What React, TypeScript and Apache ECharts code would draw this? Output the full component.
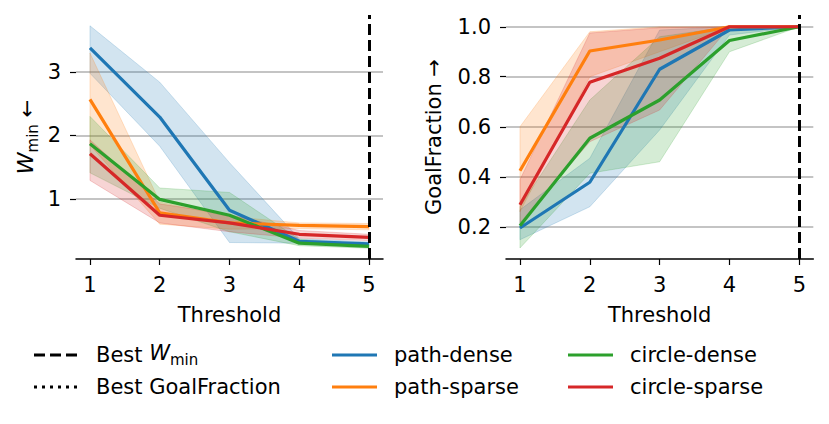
import React, { useEffect, useRef } from "react";
import * as echarts from "echarts";

const FONT = "DejaVu Sans";

const thresholds = [1, 2, 3, 4, 5];
const methods = ["path-dense", "path-sparse", "circle-dense", "circle-sparse"];
const colors = ["#1f77b4", "#ff7f0e", "#2ca02c", "#d62728"];

// W_min (left panel)
const wminMean = [
  [3.38, 2.29, 0.82, 0.33, 0.29],
  [2.57, 0.78, 0.62, 0.58, 0.56],
  [1.87, 0.99, 0.74, 0.3, 0.25],
  [1.71, 0.74, 0.62, 0.44, 0.39],
];
const wminLower = [
  [2.98, 1.83, 0.31, 0.3, 0.26],
  [1.85, 0.6, 0.52, 0.53, 0.51],
  [1.41, 0.85, 0.48, 0.26, 0.22],
  [1.29, 0.62, 0.48, 0.38, 0.34],
];
const wminUpper = [
  [3.73, 2.84, 1.57, 0.37, 0.32],
  [3.3, 0.95, 0.72, 0.62, 0.61],
  [2.3, 1.17, 1.1, 0.36, 0.28],
  [1.93, 0.92, 0.75, 0.5, 0.44],
];

// GoalFraction (right panel)
const goalMean = [
  [0.195, 0.378, 0.83, 0.987, 1.0],
  [0.424, 0.903, 0.947, 1.0, 1.0],
  [0.204, 0.554, 0.707, 0.945, 1.0],
  [0.288, 0.778, 0.874, 1.0, 1.0],
];
const goalLower = [
  [0.148, 0.28, 0.587, 0.967, 1.0],
  [0.26, 0.8, 0.9, 1.0, 1.0],
  [0.115, 0.414, 0.46, 0.9, 1.0],
  [0.216, 0.54, 0.667, 1.0, 1.0],
];
const goalUpper = [
  [0.268, 0.474, 0.987, 1.0, 1.0],
  [0.6, 0.98, 1.0, 1.0, 1.0],
  [0.28, 0.707, 0.96, 1.0, 1.0],
  [0.388, 0.975, 0.996, 1.0, 1.0],
];

const wminTicks = [1, 2, 3];
const goalTicks = [0.2, 0.4, 0.6, 0.8, 1.0];
const bestThreshold = 5;

function buildPanel(gi: number, mean: number[][], lower: number[][], upper: number[][]) {
  const out: any[] = [];
  methods.forEach((m, i) => {
    const data = thresholds.map((t, k) => [t, lower[i][k], upper[i][k]]);
    out.push({
      type: "custom",
      name: m + "-band",
      xAxisIndex: gi,
      yAxisIndex: gi,
      silent: true,
      encode: { x: 0, y: [1, 2] },
      data,
      z: 1,
      renderItem: (params: any, api: any) => {
        if (params.dataIndex !== 0) return null;
        const top = data.map((d) => api.coord([d[0], d[2]]));
        const bot = data.map((d) => api.coord([d[0], d[1]])).reverse();
        return {
          type: "polygon",
          shape: { points: top.concat(bot) },
          style: { fill: colors[i], stroke: colors[i], lineWidth: 1, opacity: 0.2 },
        };
      },
    });
  });
  methods.forEach((m, i) => {
    const s: any = {
      type: "line",
      name: m,
      xAxisIndex: gi,
      yAxisIndex: gi,
      symbol: "none",
      lineStyle: { width: 3.2, color: colors[i] },
      itemStyle: { color: colors[i] },
      data: thresholds.map((t, k) => [t, mean[i][k]]),
      z: 3,
    };
    if (i === methods.length - 1) {
      s.markLine = {
        silent: true,
        symbol: ["none", "none"],
        label: { show: false },
        lineStyle: { color: "#000", type: [11, 5], width: 3 },
        data: [{ xAxis: bestThreshold }],
        z: 5,
      };
    }
    out.push(s);
  });
  return out;
}

function xAxis(gi: number) {
  return {
    type: "value",
    gridIndex: gi,
    min: 0.8,
    max: 5.2,
    axisLine: { show: true, onZero: false, lineStyle: { color: "#000", width: 1.5 } },
    axisTick: { show: true, length: 6, customValues: thresholds, lineStyle: { color: "#000", width: 1.2 } },
    axisLabel: { customValues: thresholds, fontSize: 21, color: "#000", fontFamily: FONT, margin: 15 },
    splitLine: { show: false },
    name: "Threshold",
    nameLocation: "middle",
    nameGap: 45,
    nameTextStyle: { fontSize: 21, color: "#000", fontFamily: FONT },
  };
}

export default function App() {
  const ref = useRef<HTMLDivElement>(null);
  useEffect(() => {
    if (!ref.current) return;
    const chart = echarts.init(ref.current, undefined, { renderer: "svg" });
    const legendRows = [
      { kind: "dashed", text: "Best {w|W}{s|min}", col: 0, row: 0 },
      { kind: "dotted", text: "Best GoalFraction", col: 0, row: 1 },
      { kind: "m", idx: 0, col: 1, row: 0 },
      { kind: "m", idx: 1, col: 1, row: 1 },
      { kind: "m", idx: 2, col: 2, row: 0 },
      { kind: "m", idx: 3, col: 2, row: 1 },
    ];
    const colX = [34, 332, 568];
    const rowY = [355, 387];
    const graphics: any[] = [];
    legendRows.forEach((e: any) => {
      const x = colX[e.col];
      const y = rowY[e.row];
      let stroke = "#000";
      let dash: any = null;
      let text = e.text;
      if (e.kind === "dashed") dash = [11, 5];
      else if (e.kind === "dotted") dash = [3, 5];
      else {
        stroke = colors[e.idx];
        text = methods[e.idx];
      }
      graphics.push({
        type: "line",
        shape: { x1: x, y1: y, x2: x + 45, y2: y },
        style: { stroke, lineWidth: 3, lineDash: dash },
      });
      graphics.push({
        type: "text",
        x: x + 62,
        y,
        style: {
          text,
          fill: "#000",
          fontSize: 21,
          fontFamily: FONT,
          verticalAlign: "middle",
          align: "left",
          rich: {
            w: { fontSize: 21, fontStyle: "italic", fontFamily: FONT, verticalAlign: "top", lineHeight: 25 },
            s: { fontSize: 15, fontFamily: FONT, verticalAlign: "bottom", lineHeight: 15 },
          },
        },
      });
    });

    const option: any = {
      animation: false,
      backgroundColor: "#fff",
      textStyle: { fontFamily: FONT },
      grid: [
        { left: 76, right: 446, top: 15, bottom: 165, containLabel: false },
        { left: 506, right: 15.7, top: 15, bottom: 165, containLabel: false },
      ],
      xAxis: [xAxis(0), xAxis(1)],
      yAxis: [
        {
          type: "value",
          gridIndex: 0,
          min: 0.05,
          max: 3.9,
          axisLine: { show: false },
          axisTick: { show: true, length: 6, customValues: wminTicks, lineStyle: { color: "#000", width: 1.2 } },
          axisLabel: { customValues: wminTicks, fontSize: 21, color: "#000", fontFamily: FONT, margin: 15 },
          splitLine: { show: true, lineStyle: { color: "#b0b0b0", width: 1.5 } },
          name: "{w|W}{s|min} ←",
          nameLocation: "middle",
          nameRotate: 90,
          nameGap: 36,
          nameTextStyle: {
            fontSize: 21,
            color: "#000",
            fontFamily: FONT,
            rich: {
              w: { fontSize: 22, fontStyle: "italic", fontFamily: FONT, color: "#000", verticalAlign: "top", lineHeight: 26 },
              s: { fontSize: 15, fontFamily: FONT, color: "#000", verticalAlign: "bottom", lineHeight: 15 },
            },
          },
        },
        {
          type: "value",
          gridIndex: 1,
          min: 0.071,
          max: 1.047,
          axisLine: { show: false },
          axisTick: { show: true, length: 6, customValues: goalTicks, lineStyle: { color: "#000", width: 1.2 } },
          axisLabel: {
            customValues: goalTicks,
            fontSize: 21,
            color: "#000",
            fontFamily: FONT,
            margin: 15,
            formatter: (v: number) => v.toFixed(1),
          },
          splitLine: { show: true, lineStyle: { color: "#b0b0b0", width: 1.5 } },
          name: "GoalFraction →",
          nameLocation: "middle",
          nameRotate: 90,
          nameGap: 62,
          nameTextStyle: { fontSize: 21, color: "#000", fontFamily: FONT },
        },
      ],
      series: [
        ...buildPanel(0, wminMean, wminLower, wminUpper),
        ...buildPanel(1, goalMean, goalLower, goalUpper),
      ],
      graphic: graphics,
    };
    chart.setOption(option);
    return () => chart.dispose();
  }, []);
  return <div ref={ref} style={{ width: 829, height: 424, position: "absolute", left: 0, top: 0 }} />;
}
